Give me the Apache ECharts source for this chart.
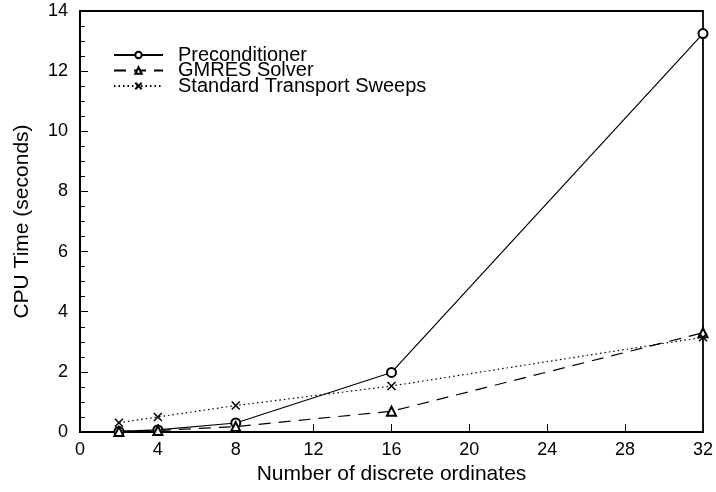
<!DOCTYPE html>
<html><head><meta charset="utf-8">
<script src="https://cdn.jsdelivr.net/npm/echarts@6/dist/echarts.min.js"></script>
<style>html,body{margin:0;padding:0;background:#fff}#c{width:716px;height:492px}</style>
</head><body><div id="c"></div>
<script>
const ordinates = [2, 4, 8, 16, 32];
const preconditioner = [0.02, 0.07, 0.3, 1.98, 13.25];
const gmres = [0.02, 0.05, 0.18, 0.69, 3.3];
const sweeps = [0.31, 0.5, 0.88, 1.53, 3.15];
const seriesNames = ['Preconditioner', 'GMRES Solver', 'Standard Transport Sweeps'];

const pairs = v => ordinates.map((x, i) => [x, v[i]]);
const font = 'Liberation Sans, Arial, sans-serif';
const chart = echarts.init(document.getElementById('c'), null, {renderer: 'canvas'});
const crossPath = 'path://M0,0L10,10M10,0L0,10';
chart.setOption({
  animation: false,
  backgroundColor: '#fff',
  grid: {left: 80, right: 12, top: 11, bottom: 60, show: true, borderColor: '#000', borderWidth: 1.8, backgroundColor: 'transparent'},
  legend: {
    orient: 'vertical', left: 108, top: 40, itemGap: -4.5, itemWidth: 49, itemHeight: 8,
    textStyle: {fontFamily: font, fontSize: 20, lineHeight: 16.5, color: '#000', padding: [0, 0, 0, 10]},
    data: seriesNames
  },
  xAxis: {
    type: 'value', min: 0, max: 32, interval: 4,
    name: 'Number of discrete ordinates', nameLocation: 'middle', nameGap: 32,
    nameTextStyle: {fontFamily: font, fontSize: 21, color: '#000'},
    axisLine: {show: true, lineStyle: {color: '#000', width: 1.8}},
    axisTick: {inside: true, length: 8, lineStyle: {color: '#000', width: 1}},
    axisLabel: {fontFamily: font, fontSize: 18, color: '#000', margin: 9},
    splitLine: {show: false}
  },
  yAxis: {
    type: 'value', min: 0, max: 14, interval: 2,
    name: 'CPU Time (seconds)', nameLocation: 'middle', nameGap: 47,
    nameTextStyle: {fontFamily: font, fontSize: 21, color: '#000'},
    axisLine: {show: true, lineStyle: {color: '#000', width: 1.8}},
    axisTick: {inside: true, length: 8, lineStyle: {color: '#000', width: 1}},
    minorTick: {show: true, splitNumber: 4, length: 5, lineStyle: {color: '#000', width: 1}},
    axisLabel: {fontFamily: font, fontSize: 18, color: '#000', margin: 12},
    splitLine: {show: false}
  },
  series: [
    {name: seriesNames[0], type: 'line', data: pairs(preconditioner),
     symbol: 'emptyCircle', symbolSize: 9,
     lineStyle: {color: '#000', width: 1.2, type: 'solid'},
     itemStyle: {color: '#000', borderWidth: 1.2}},
    {name: seriesNames[1], type: 'line', data: pairs(gmres),
     symbol: 'emptyTriangle', symbolSize: 9,
     lineStyle: {color: '#000', width: 1.2, type: [12, 8]},
     itemStyle: {color: '#000', borderWidth: 1.2}},
    {name: seriesNames[2], type: 'line', data: pairs(sweeps),
     symbol: crossPath, symbolSize: 8,
     lineStyle: {color: '#000', width: 1.2, type: [1.5, 3]},
     itemStyle: {color: '#000', borderColor: '#000', borderWidth: 1.5}}
  ]
});
</script></body></html>
